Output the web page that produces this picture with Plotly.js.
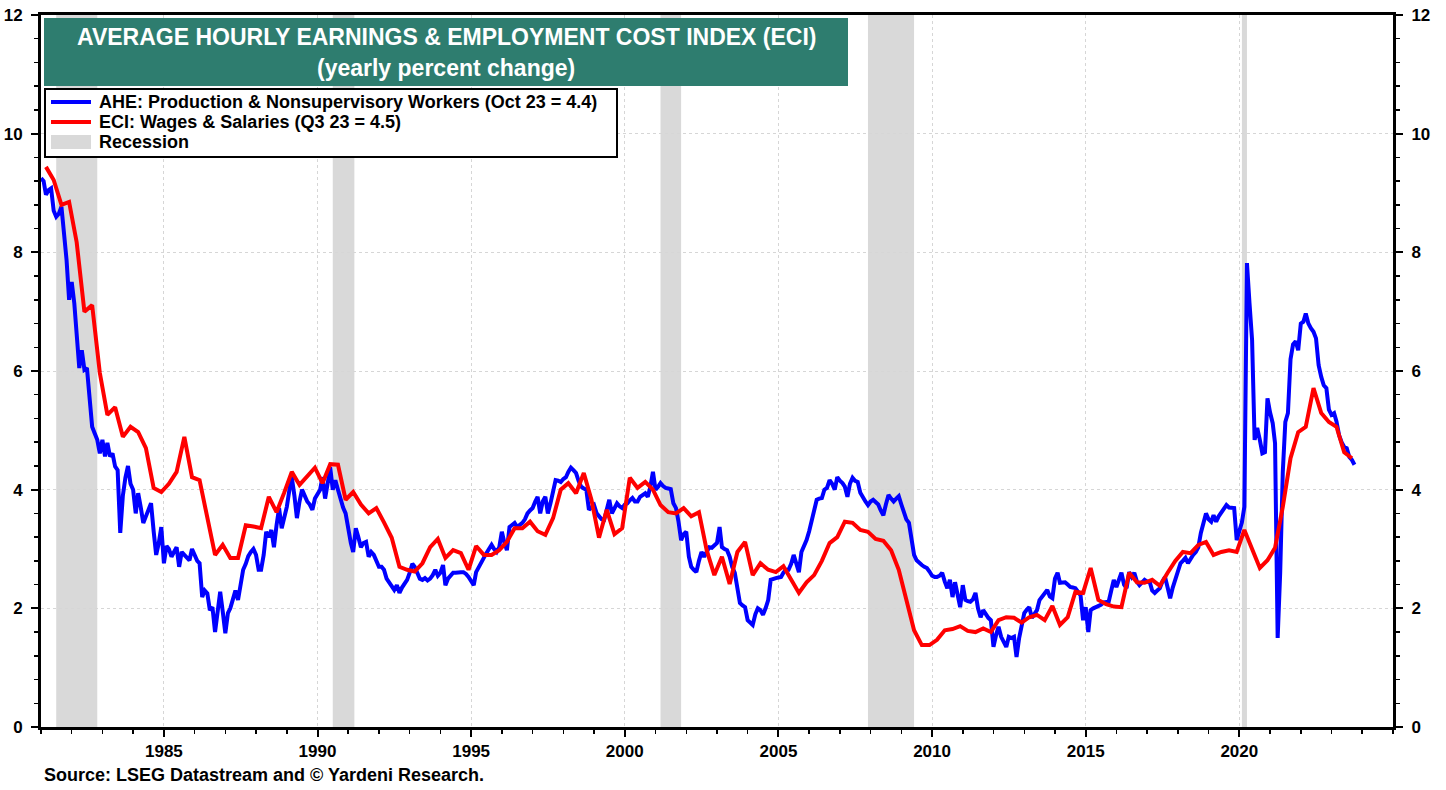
<!DOCTYPE html>
<html>
<head>
<meta charset="utf-8">
<script src="https://cdn.plot.ly/plotly-3.0.1.min.js"></script>
<style>
  html, body { margin: 0; padding: 0; background: #fff; }
  #PLOT { width: 1446px; height: 790px; }
</style>
</head>
<body>
<div id="PLOT"></div>
<script>
// AHE production & nonsupervisory workers, yearly % change, monthly from Jan 1981
const aheStartYear = 1981;
const aheValues = [
  9.25, 9.2, 8.97, 9.05, 9.08, 8.7, 8.6, 8.65, 8.77, 8.3, 7.87, 7.2,      // 1981
  7.5, 7.14, 6.6, 6.05, 6.35, 6.02, 6.05, 5.6, 5.06, 4.95, 4.84, 4.61,     // 1982
  4.84, 4.56, 4.79, 4.56, 4.61, 4.39, 4.33, 3.27, 3.9, 4.2, 4.4, 4.1,      // 1983
  4.0, 3.6, 3.94, 3.7, 3.44, 3.55, 3.65, 3.77, 3.3, 2.9, 3.1, 3.37,        // 1984
  2.76, 3.05, 3.0, 2.87, 2.95, 3.03, 2.7, 2.95, 2.9, 2.85, 2.81, 3.0,      // 1985
  2.9, 2.8, 2.76, 2.19, 2.3, 2.25, 1.97, 2.02, 1.6, 2.0, 2.28, 1.95,       // 1986
  1.58, 1.92, 2.0, 2.15, 2.3, 2.14, 2.4, 2.65, 2.75, 2.88, 2.95, 3.0,      // 1987
  2.9, 2.65, 2.65, 2.9, 3.29, 3.2, 3.32, 3.03, 3.4, 3.69, 3.35, 3.5,       // 1988
  3.71, 4.0, 4.21, 3.9, 3.52, 3.8, 4.0, 3.9, 3.8, 3.75, 3.66, 3.85,        // 1989
  3.94, 4.0, 4.21, 3.85, 4.1, 4.38, 4.0, 4.16, 4.0, 3.83, 3.7, 3.6,        // 1990
  3.32, 3.1, 2.95, 3.35, 3.2, 3.03, 3.1, 3.12, 2.87, 2.95, 2.9, 2.8,       // 1991
  2.7, 2.7, 2.65, 2.5, 2.43, 2.35, 2.31, 2.39, 2.26, 2.35, 2.43, 2.48,     // 1992
  2.6, 2.75, 2.7, 2.6, 2.5, 2.48, 2.51, 2.47, 2.5, 2.56, 2.65, 2.55,       // 1993
  2.6, 2.73, 2.39, 2.5, 2.56, 2.6, 2.6, 2.61, 2.61, 2.61, 2.58, 2.53,      // 1994
  2.45, 2.39, 2.61, 2.7, 2.78, 2.85, 2.93, 3.0, 3.07, 3.0, 2.95, 3.03,     // 1995
  3.29, 3.1, 2.98, 3.37, 3.4, 3.44, 3.37, 3.4, 3.44, 3.5, 3.6, 3.65,       // 1996
  3.69, 3.8, 3.88, 3.6, 3.8, 3.88, 3.6, 3.77, 3.95, 4.16, 4.15, 4.13,      // 1997
  4.18, 4.21, 4.3, 4.37, 4.33, 4.28, 4.15, 4.05, 4.02, 4.0, 3.66, 3.7,     // 1998
  3.74, 3.6, 3.54, 3.5, 3.49, 3.65, 3.83, 3.6, 3.7, 3.77, 3.72, 3.69,      // 1999
  3.75, 3.77, 3.82, 3.86, 3.8, 3.8, 3.88, 3.91, 3.94, 3.88, 4.05, 4.3,     // 2000
  4.0, 4.05, 4.11, 4.06, 4.03, 4.02, 4.01, 3.77, 3.69, 3.46, 3.15, 3.25,   // 2001
  3.29, 2.87, 2.7, 2.65, 2.61, 2.8, 2.95, 2.87, 2.95, 3.03, 3.02, 3.06,    // 2002
  3.1, 3.37, 3.03, 3.0, 2.98, 2.87, 2.7, 2.6, 2.3, 2.09, 2.05, 2.02,       // 2003
  1.8, 1.75, 1.72, 1.9, 2.0, 1.97, 1.89, 2.0, 2.14, 2.48, 2.5, 2.51,       // 2004
  2.52, 2.53, 2.6, 2.65, 2.65, 2.75, 2.9, 2.73, 2.61, 2.95, 3.05, 3.15,    // 2005
  3.3, 3.49, 3.7, 3.83, 3.85, 3.86, 4.0, 4.03, 4.16, 4.1, 4.0, 4.21,       // 2006
  4.15, 4.11, 4.05, 3.88, 4.1, 4.2, 4.15, 4.13, 3.95, 3.86, 3.8, 3.74,     // 2007
  3.8, 3.83, 3.8, 3.75, 3.65, 3.57, 3.75, 3.91, 3.85, 3.8, 3.85, 3.89,     // 2008
  3.75, 3.6, 3.5, 3.44, 3.2, 2.9, 2.81, 2.76, 2.73, 2.7, 2.68, 2.62,       // 2009
  2.55, 2.53, 2.53, 2.55, 2.6, 2.45, 2.34, 2.48, 2.19, 2.44, 2.2, 2.02,    // 2010
  2.39, 2.14, 2.12, 2.11, 2.15, 2.26, 2.0, 1.85, 1.97, 1.9, 1.84, 1.8,     // 2011
  1.35, 1.55, 1.69, 1.52, 1.45, 1.35, 1.52, 1.5, 1.52, 1.18, 1.5, 1.7,     // 2012
  1.92, 1.98, 2.02, 1.84, 1.92, 1.97, 2.14, 2.2, 2.26, 2.31, 2.2, 2.17,    // 2013
  2.5, 2.6, 2.43, 2.44, 2.44, 2.4, 2.36, 2.35, 2.34, 2.28, 2.22, 1.8,      // 2014
  2.02, 1.6, 1.97, 2.0, 2.02, 2.05, 2.06, 2.1, 2.11, 2.11, 2.3, 2.48,      // 2015
  2.36, 2.5, 2.6, 2.4, 2.34, 2.61, 2.53, 2.6, 2.45, 2.39, 2.45, 2.48,      // 2016
  2.45, 2.44, 2.3, 2.26, 2.3, 2.34, 2.45, 2.53, 2.35, 2.17, 2.35, 2.48,    // 2017
  2.65, 2.76, 2.8, 2.85, 2.76, 2.85, 2.9, 2.95, 3.03, 3.27, 3.45, 3.6,     // 2018
  3.5, 3.46, 3.57, 3.46, 3.55, 3.62, 3.7, 3.74, 3.7, 3.69, 3.69, 3.15,     // 2019
  3.29, 3.45, 3.71, 7.82, 7.15, 6.52, 4.84, 5.04, 4.84, 4.61, 4.63, 5.54,  // 2020
  5.3, 5.12, 4.78, 1.5, 2.6, 4.3, 5.14, 5.29, 6.2, 6.45, 6.5, 6.35,        // 2021
  6.8, 6.83, 6.97, 6.8, 6.72, 6.66, 6.55, 6.1, 5.9, 5.76, 5.71, 5.35,      // 2022
  5.26, 5.29, 5.15, 4.92, 4.8, 4.72, 4.7, 4.55, 4.5, 4.42                  // 2023
];

// ECI wages & salaries, yearly % change, quarterly from Q1 1981
const eciStartYear = 1981;
const eciValues = [
  9.44, 9.22, 8.8, 8.85,   8.17, 7.0, 7.11, 5.97,   5.26, 5.39, 4.89, 5.06,  // 1981-83
  4.97, 4.7, 4.03, 3.96,   4.1, 4.3, 4.89, 4.21,    4.16, 3.52, 2.9, 3.07,   // 1984-86
  2.85, 2.85, 3.4, 3.38,   3.35, 3.88, 3.62, 3.95,  4.3, 4.08, 4.22, 4.37,   // 1987-89
  4.11, 4.43, 4.42, 3.83,  3.96, 3.75, 3.6, 3.69,   3.45, 3.19, 2.7, 2.65,   // 1990-92
  2.62, 2.76, 3.03, 3.17,  2.85, 2.98, 2.93, 2.65,  3.05, 2.9, 2.9, 2.98,    // 1993-95
  3.12, 3.35, 3.35, 3.46,  3.3, 3.24, 3.52, 4.0,    4.11, 3.94, 4.28, 3.83,  // 1996-98
  3.19, 3.66, 3.25, 3.35,  4.2, 4.03, 4.13, 4.0,    3.74, 3.62, 3.6, 3.69,   // 1999-01
  3.55, 3.62, 2.98, 2.56,  2.87, 2.41, 2.95, 3.12,  2.56, 2.76, 2.65, 2.61,  // 2002-04
  2.71, 2.5, 2.26, 2.44,   2.56, 2.8, 3.1, 3.2,     3.46, 3.44, 3.32, 3.29,  // 2005-07
  3.17, 3.14, 2.98, 2.65,  2.14, 1.63, 1.38, 1.38,  1.47, 1.63, 1.65, 1.7,   // 2008-10
  1.62, 1.6, 1.66, 1.6,    1.8, 1.85, 1.84, 1.76,   1.85, 1.89, 1.8, 2.04,   // 2011-13
  1.72, 1.85, 2.28, 2.26,  2.68, 2.14, 2.07, 2.03,  2.02, 2.6, 2.44, 2.43,   // 2014-16
  2.48, 2.38, 2.6, 2.8,    2.95, 2.93, 3.07, 3.12,  2.9, 2.95, 2.98, 2.95,   // 2017-19
  3.32, 3.0, 2.68, 2.81,   3.02, 3.71, 4.53, 4.97,  5.06, 5.71, 5.29, 5.14,  // 2020-22
  5.06, 4.63, 4.53                                                          // 2023
];

// NBER recessions
const recessionStarts = ['1981-07-01', '1990-07-01', '2001-03-01', '2007-12-01', '2020-02-01'];
const recessionEnds   = ['1982-11-01', '1991-03-15', '2001-11-01', '2009-06-01', '2020-04-01'];

// labelled years on the x axis
const yearTicks = [1985, 1990, 1995, 2000, 2005, 2010, 2015, 2020];

const legendLabels = [
  'AHE: Production & Nonsupervisory Workers (Oct 23 = 4.4)',
  'ECI: Wages & Salaries (Q3 23 = 4.5)',
  'Recession'
];

const FONT = 'Liberation Sans, Arial, Helvetica, sans-serif';
const BLUE = '#0000ff';
const RED = '#ff0000';
const GREY = '#d9d9d9';
const TEAL = '#2e7d6f';
const GRID = '#d6d6d6';

function pad(n) { return n < 10 ? '0' + n : '' + n; }

const aheDates = aheValues.map((v, i) => {
  const y = aheStartYear + Math.floor(i / 12);
  return y + '-' + pad(i % 12 + 1) + '-01';
});
const eciDates = eciValues.map((v, i) => {
  const y = eciStartYear + Math.floor(i / 4);
  return y + '-' + pad((i % 4) * 3 + 3) + '-01';
});

// pixel -> paper helpers for the boxes drawn over the plot
const L = 41, T = 15, W = 1352, H = 712;
function px(x) { return (x - L) / W; }
function py(y) { return (T + H - y) / H; }

const shapes = [];
recessionStarts.forEach((s, i) => {
  shapes.push({
    type: 'rect', xref: 'x', yref: 'paper', x0: s, x1: recessionEnds[i], y0: 0, y1: 1,
    fillcolor: GREY, line: { width: 0 }, layer: 'below'
  });
});
// title box
shapes.push({
  type: 'rect', xref: 'paper', yref: 'paper', x0: px(44), x1: px(848), y0: py(86), y1: py(18),
  fillcolor: TEAL, line: { width: 0 }, layer: 'above'
});
// legend box
shapes.push({
  type: 'rect', xref: 'paper', yref: 'paper', x0: px(45), x1: px(617), y0: py(157), y1: py(89),
  fillcolor: '#ffffff', line: { color: '#000', width: 2 }, layer: 'above'
});
shapes.push({
  type: 'line', xref: 'paper', yref: 'paper', x0: px(51), x1: px(91), y0: py(102), y1: py(102),
  line: { color: BLUE, width: 4 }, layer: 'above'
});
shapes.push({
  type: 'line', xref: 'paper', yref: 'paper', x0: px(51), x1: px(91), y0: py(122), y1: py(122),
  line: { color: RED, width: 4 }, layer: 'above'
});
shapes.push({
  type: 'rect', xref: 'paper', yref: 'paper', x0: px(51), x1: px(91), y0: py(149), y1: py(135),
  fillcolor: GREY, line: { width: 0 }, layer: 'above'
});

const annotations = [
  { text: '<b>AVERAGE HOURLY EARNINGS & EMPLOYMENT COST INDEX (ECI)</b>', x: px(446), y: py(37),
    font: { family: FONT, size: 23, color: '#fff' } },
  { text: '<b>(yearly percent change)</b>', x: px(446), y: py(68),
    font: { family: FONT, size: 23, color: '#fff' } },
  { text: '<b>Source: LSEG Datastream and © Yardeni Research.</b>', x: px(42), y: py(775),
    xanchor: 'left', font: { family: FONT, size: 18, color: '#000' } }
].map(a => Object.assign({ xref: 'paper', yref: 'paper', showarrow: false, xanchor: 'center', yanchor: 'middle' }, a));

legendLabels.forEach((t, i) => {
  annotations.push({
    text: '<b>' + t + '</b>', xref: 'paper', yref: 'paper', x: px(97), y: py(102 + i * 20),
    xanchor: 'left', yanchor: 'middle', showarrow: false,
    font: { family: FONT, size: 18, color: '#000' }
  });
});

const tickFont = { family: FONT, size: 17, color: '#000', weight: 'bold' };

const yCommon = {
  range: [0, 12], tickmode: 'linear', tick0: 0, dtick: 2,
  ticks: 'outside', ticklen: 7, tickwidth: 2, tickcolor: '#000',
  minor: { tickmode: 'linear', tick0: 0, dtick: 0.4, ticks: 'outside', ticklen: 4, tickwidth: 1.5, tickcolor: '#000', showgrid: false },
  showline: true, linecolor: '#000', linewidth: 3,
  zeroline: false, tickfont: tickFont, ticklabelstandoff: 5, fixedrange: true
};

const data = [
  { x: aheDates, y: aheValues, type: 'scatter', mode: 'lines', name: legendLabels[0],
    line: { color: BLUE, width: 4 }, hoverinfo: 'x+y' },
  { x: eciDates, y: eciValues, type: 'scatter', mode: 'lines', name: legendLabels[1], yaxis: 'y2',
    line: { color: RED, width: 4 }, hoverinfo: 'x+y' }
];

const layout = {
  width: 1446, height: 790,
  margin: { l: L, r: 1446 - L - W, t: T, b: 790 - T - H },
  paper_bgcolor: '#fff', plot_bgcolor: '#fff',
  showlegend: false,
  font: { family: FONT },
  xaxis: {
    type: 'date', range: ['1981-01-01', '2025-01-01'],
    tickmode: 'array',
    tickvals: yearTicks.map(y => y + '-01-01'),
    ticktext: yearTicks.map(String),
    ticks: 'outside', ticklen: 7, tickwidth: 2, tickcolor: '#000',
    minor: { tickmode: 'linear', tick0: '1981-01-01', dtick: 'M12', ticks: 'outside', ticklen: 4, tickwidth: 1.5, tickcolor: '#000', showgrid: false },
    showgrid: true, gridcolor: GRID, griddash: 'dot', gridwidth: 1,
    showline: true, linecolor: '#000', linewidth: 3, mirror: true,
    tickfont: tickFont, fixedrange: true
  },
  yaxis: Object.assign({}, yCommon, {
    showgrid: true, gridcolor: GRID, griddash: 'dot', gridwidth: 1
  }),
  yaxis2: Object.assign({}, yCommon, {
    overlaying: 'y', side: 'right', showgrid: false
  }),
  shapes: shapes,
  annotations: annotations
};

Plotly.newPlot('PLOT', data, layout, { displayModeBar: false, staticPlot: true });
</script>
</body>
</html>
